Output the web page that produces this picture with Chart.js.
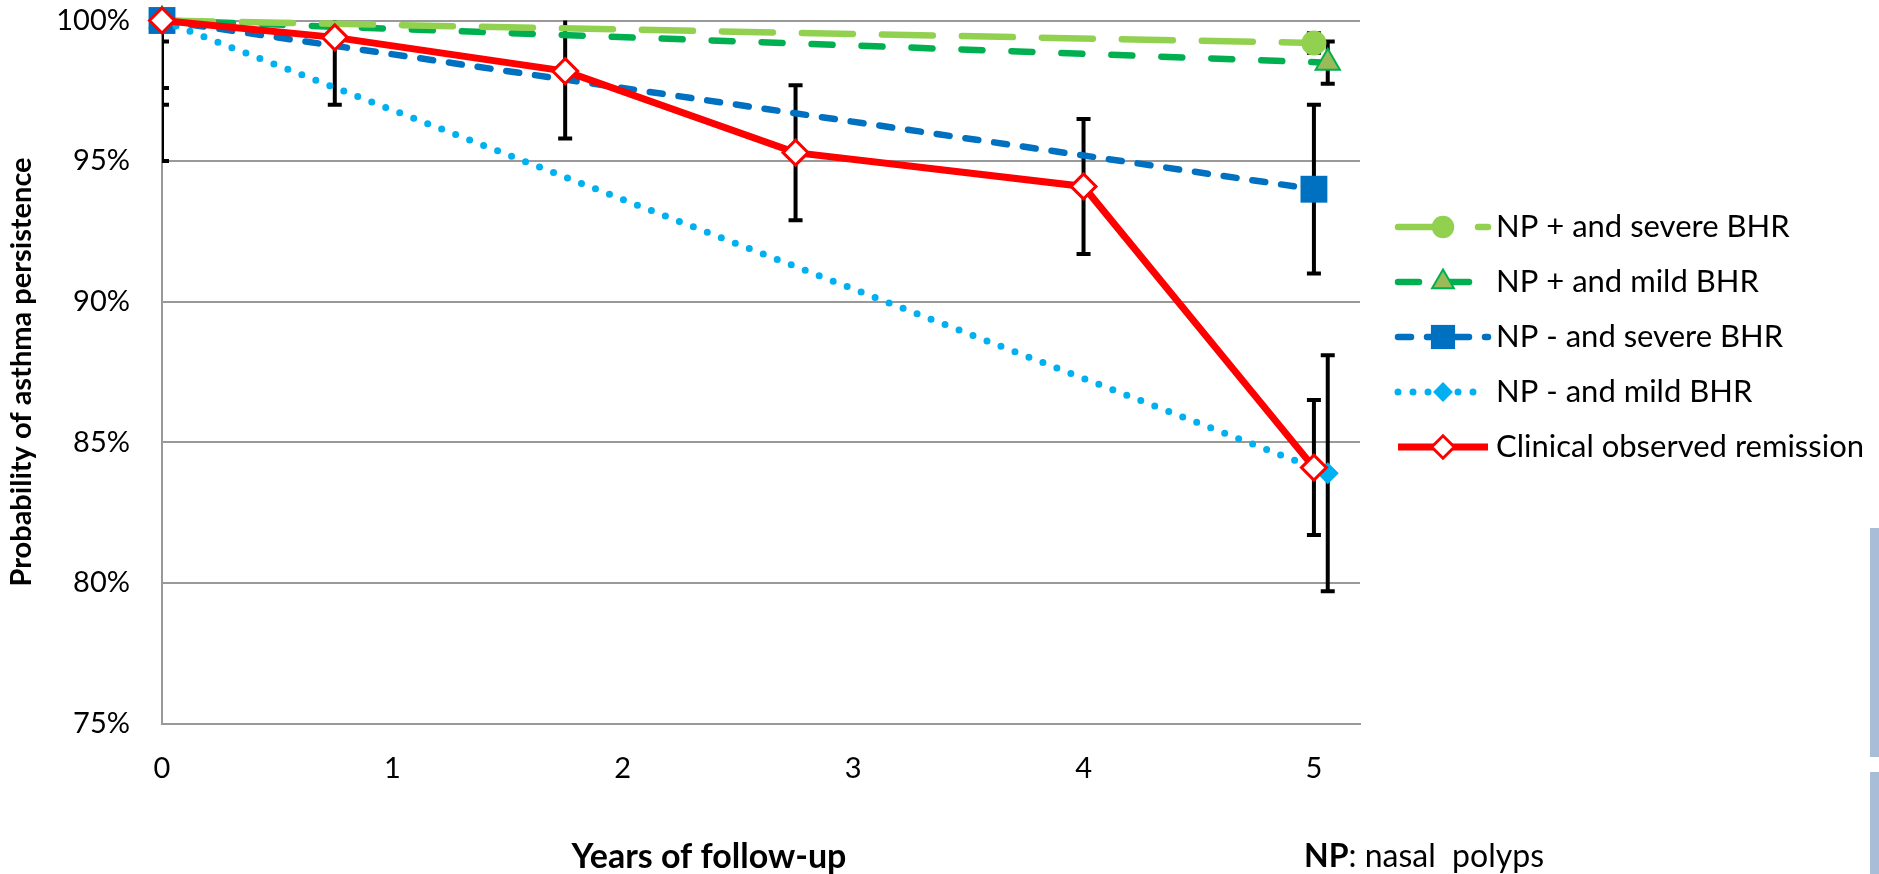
<!DOCTYPE html>
<html>
<head>
<meta charset="utf-8">
<title>Probability of asthma persistence</title>
<script src="https://cdn.jsdelivr.net/npm/chart.js@4.4.1/dist/chart.umd.min.js"></script>
<style>
  html, body { margin: 0; padding: 0; background: #fff; }
  #wrap { position: relative; width: 1879px; height: 874px; overflow: hidden; }
  .edge { position: absolute; left: 1870px; width: 9px; background: #a8bdd7; }
</style>
</head>
<body>
<div id="wrap">
  <canvas id="chart" width="1879" height="874"></canvas>
  <div class="edge" style="top:528px;height:229px"></div>
  <div class="edge" style="top:772px;height:102px"></div>
</div>
<script>
// years of follow-up for each series
const xSevere = [0, 5];
const xMild = [0, 5.06];
const xClinical = [0, 0.75, 1.75, 2.75, 4, 5];

// probability of persistence (%)
const npPosSevere = [100, 99.2];
const npPosMild = [100, 98.5];
const npNegSevere = [100, 94.0];
const npNegMild = [100, 83.9];
const clinicalRemission = [100, 99.4, 98.2, 95.3, 94.1, 84.1];

// error bar half-widths, one per point
const errPosSevere = [0.35, 0.35];
const errPosMild = [0.75, 0.75];
const errNegSevere = [3.0, 3.0];
const errNegMild = [5.0, 4.2];
const errClinical = [2.4, 2.4, 2.4, 2.4, 2.4, 2.4];

const seriesLabels = [
    'NP + and severe BHR',
    'NP + and mild BHR',
    'NP - and severe BHR',
    'NP - and mild BHR',
    'Clinical observed remission'
];
const xTicks = [0, 1, 2, 3, 4, 5];
const yTicks = [75, 80, 85, 90, 95, 100];

const FONT = 'Lato';

function points(xs, ys) {
    return xs.map((x, i) => ({ x, y: ys[i] }));
}

const datasets = [
    {
        label: seriesLabels[0], data: points(xSevere, npPosSevere), errors: errPosSevere,
        borderColor: '#92D050', backgroundColor: '#92D050', borderWidth: 6.5,
        borderDash: [51, 29], borderCapStyle: 'round',
        pointStyle: 'circle', pointRadius: 12.5, pointBorderWidth: 0, order: 3
    },
    {
        label: seriesLabels[1], data: points(xMild, npPosMild), errors: errPosMild,
        borderColor: '#00B050', backgroundColor: '#9BBB59', borderWidth: 6.5,
        borderDash: [21, 29], borderCapStyle: 'round',
        pointStyle: 'triangle', pointRadius: 14, pointBackgroundColor: '#9BBB59',
        pointBorderColor: '#00B050', pointBorderWidth: 2, order: 4
    },
    {
        label: seriesLabels[2], data: points(xSevere, npNegSevere), errors: errNegSevere,
        borderColor: '#0070C0', backgroundColor: '#0070C0', borderWidth: 6.5,
        borderDash: [13, 16], borderCapStyle: 'round',
        pointStyle: 'rect', pointRadius: 19, pointBorderWidth: 0, order: 2
    },
    {
        label: seriesLabels[3], data: points(xMild, npNegMild), errors: errNegMild,
        borderColor: '#00B0F0', backgroundColor: '#00B0F0', borderWidth: 7,
        borderDash: [0, 15], borderCapStyle: 'round',
        pointStyle: 'rectRot', pointRadius: 11, pointBorderWidth: 0, order: 1
    },
    {
        label: seriesLabels[4], data: points(xClinical, clinicalRemission), errors: errClinical,
        borderColor: '#FF0000', backgroundColor: '#FFFFFF', borderWidth: 7,
        pointStyle: 'rectRot', pointRadius: 12.5, pointBackgroundColor: '#FFFFFF',
        pointBorderColor: '#FF0000', pointBorderWidth: 3, order: 0
    }
];
datasets.forEach(ds => {
    ds.showLine = true;
    ds.clip = false;
    ds.pointHoverRadius = ds.pointRadius;
});

// vertical error bars, clipped to the plot area, drawn under the markers
const errorBars = {
    id: 'errorBars',
    beforeDatasetsDraw(chart) {
        const { ctx, chartArea: a, scales: { x, y } } = chart;
        ctx.save();
        ctx.beginPath();
        ctx.rect(a.left, a.top, a.right - a.left, a.bottom - a.top);
        ctx.clip();
        ctx.strokeStyle = '#000';
        ctx.lineWidth = 4;
        chart.data.datasets.forEach(ds => {
            ds.data.forEach((p, i) => {
                const e = ds.errors[i];
                const px = x.getPixelForValue(p.x);
                const top = y.getPixelForValue(p.y + e);
                const bot = y.getPixelForValue(p.y - e);
                ctx.beginPath();
                ctx.moveTo(px, top); ctx.lineTo(px, bot);
                ctx.moveTo(px - 7, top); ctx.lineTo(px + 7, top);
                ctx.moveTo(px - 7, bot); ctx.lineTo(px + 7, bot);
                ctx.stroke();
            });
        });
        ctx.restore();
    }
};

// legend with line samples, x-axis title and footnote
const annotations = {
    id: 'annotations',
    afterDraw(chart) {
        const { ctx } = chart;
        ctx.save();
        chart.data.datasets.forEach((ds, i) => {
            const cy = 227 + i * 55;
            ctx.setLineDash(ds.borderDash || []);
            ctx.lineCap = ds.borderCapStyle || 'butt';
            ctx.lineWidth = ds.borderWidth;
            ctx.strokeStyle = ds.borderColor;
            ctx.beginPath();
            ctx.moveTo(1398, cy);
            ctx.lineTo(1488, cy);
            ctx.stroke();
            ctx.setLineDash([]);
            ctx.fillStyle = ds.pointBackgroundColor || ds.backgroundColor;
            ctx.strokeStyle = ds.pointBorderColor || ds.borderColor;
            ctx.lineWidth = ds.pointBorderWidth;
            Chart.helpers.drawPoint(ctx, {
                pointStyle: ds.pointStyle, radius: ds.pointRadius * 0.9,
                borderWidth: ds.pointBorderWidth, rotation: 0
            }, 1443, cy);
            ctx.fillStyle = '#000';
            ctx.font = `31px ${FONT}`;
            ctx.textBaseline = 'middle';
            ctx.textAlign = 'left';
            ctx.fillText(ds.label, 1496, cy);
        });

        ctx.fillStyle = '#000';
        ctx.textBaseline = 'middle';
        ctx.textAlign = 'center';
        ctx.font = `bold 34px ${FONT}`;
        ctx.fillText('Years of follow-up', 709, 857);

        ctx.textAlign = 'left';
        ctx.font = `bold 32px ${FONT}`;
        ctx.fillText('NP', 1304, 857);
        const w = ctx.measureText('NP').width;
        ctx.font = `32px ${FONT}`;
        ctx.fillText(': nasal  polyps', 1304 + w, 857);
        ctx.restore();
    }
};

new Chart(document.getElementById('chart'), {
    type: 'scatter',
    data: { datasets },
    options: {
        responsive: false,
        animation: false,
        devicePixelRatio: 1,
        events: [],
        layout: { padding: { top: 20.5, right: 519, bottom: 0, left: 0 } },
        plugins: {
            legend: { display: false },
            tooltip: { enabled: false }
        },
        scales: {
            x: {
                type: 'linear',
                min: 0,
                max: 5.2,
                afterBuildTicks: s => { s.ticks = xTicks.map(v => ({ value: v })); },
                afterFit: s => { s.height = 150.5; s.paddingLeft = 0; s.paddingRight = 0; },
                grid: { display: false, drawTicks: false },
                border: { display: true, color: '#999', width: 2 },
                ticks: { padding: 28, color: '#000', font: { family: FONT, size: 29 } }
            },
            y: {
                min: 75,
                max: 100,
                afterBuildTicks: s => { s.ticks = yTicks.map(v => ({ value: v })); },
                afterFit: s => { s.width = 162; s.paddingTop = 0; s.paddingBottom = 0; },
                grid: { color: '#999', lineWidth: 2, drawTicks: false },
                border: { display: true, color: '#999', width: 2 },
                ticks: {
                    padding: 32, color: '#000', font: { family: FONT, size: 29 },
                    callback: v => v + '%'
                },
                title: {
                    display: true,
                    text: 'Probability of asthma persistence',
                    color: '#000',
                    font: { family: FONT, size: 29, weight: 'bold' },
                    padding: { top: 4, bottom: 0 }
                }
            }
        }
    },
    plugins: [errorBars, annotations]
});
</script>
</body>
</html>
